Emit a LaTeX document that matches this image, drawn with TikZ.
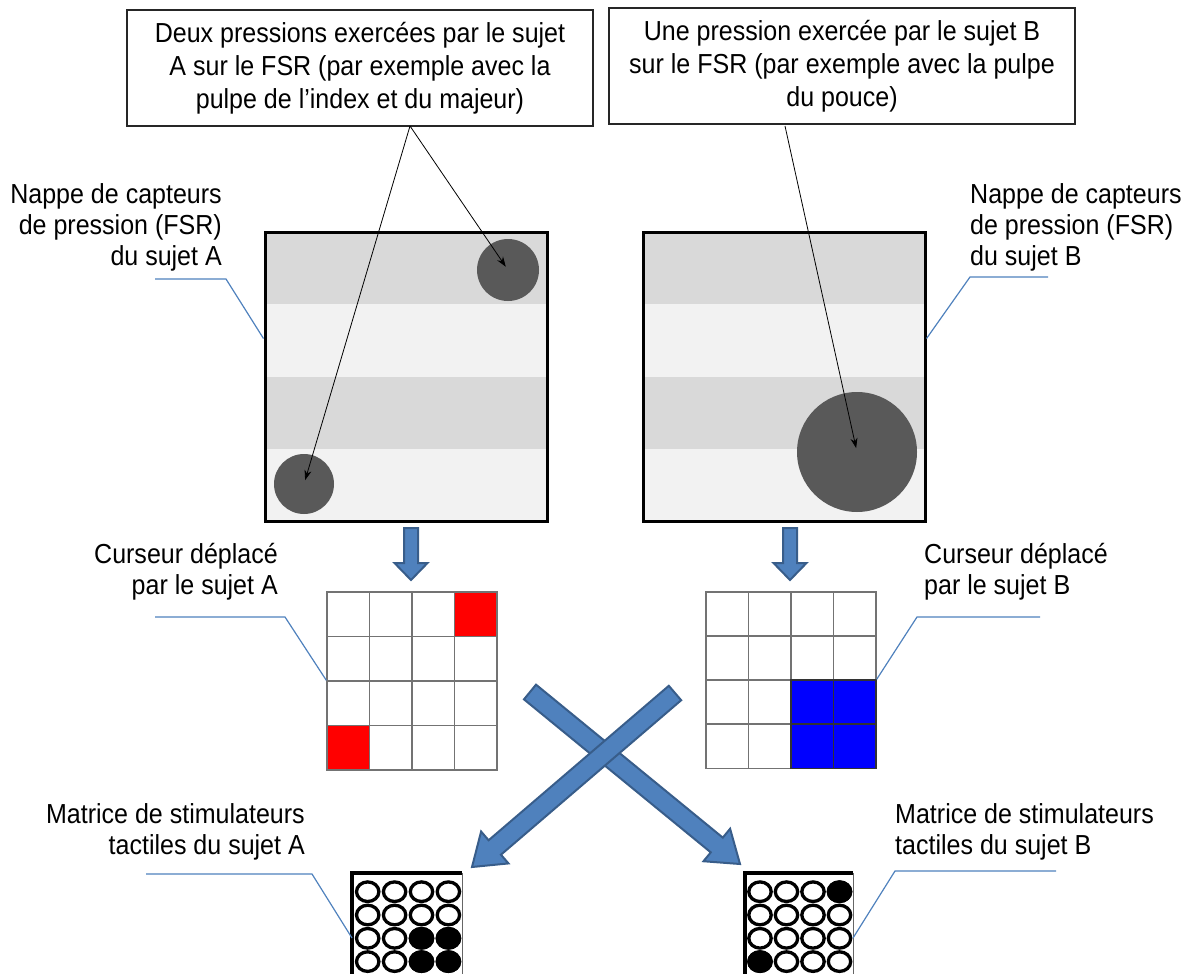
\documentclass[tikz,border=0pt]{standalone}
\usepackage{fontspec}
\setmainfont{Liberation Sans}[FakeStretch=0.91]
\usetikzlibrary{positioning, calc, arrows.meta}

\definecolor{stripeD}{HTML}{D9D9D9}
\definecolor{stripeL}{HTML}{F2F2F2}
\definecolor{press}{HTML}{595959}
\definecolor{leadcol}{HTML}{4F81BD}
\definecolor{bfill}{HTML}{4F81BD}
\definecolor{bline}{HTML}{385D8A}

\tikzset{
	every node/.style={inner sep=0, font=\fontsize{27.5}{31}\selectfont},
	textbox/.style={draw=black!85, line width=1.2, align=center, minimum width=466, minimum height=116, font=\fontsize{27.5}{33}\selectfont},
	lblL/.style={align=right, anchor=north east},
	lblR/.style={align=left, anchor=north west},
	leader/.style={draw=leadcol, line width=1.2},
	pad/.style={draw=black, line width=3, minimum width=282, minimum height=289},
	press/.style={circle, fill=press},
	cell/.style={draw=black!55, line width=1.3, minimum width=42.5, minimum height=44.5},
	pointer/.style={-{Stealth[length=10, width=7]}, line width=0.8, shorten >=4},
	stim/.style={draw=black, line width=3.3},
}

% block arrow: tail, tip, half shaft, half head, head length
\newcommand{\blockarrow}[5]{
	\coordinate (ah) at ($(#2)!#5!(#1)$);
	\filldraw[fill=bfill, draw=bline, line width=2, line join=miter]
		($(#1)!#3!90:(#2)$) -- ($(ah)!#3!90:(#2)$) -- ($(ah)!#4!90:(#2)$) -- (#2)
		-- ($(ah)!#4!-90:(#2)$) -- ($(ah)!#3!-90:(#2)$) -- ($(#1)!#3!-90:(#2)$) -- cycle;
}

\begin{document}
\begin{tikzpicture}[x=1pt, y=-1pt]
	\useasboundingbox (0,0) rectangle (1191,974);
	\clip (0,0) rectangle (1191,974);

	% boxes at the top
	\node[textbox] (bxA) at (360,68) {Deux pressions exercées par le sujet\\A sur le FSR (par exemple avec la\\pulpe de l’index et du majeur)};
	\node[textbox] (bxB) at (842,66) {Une pression exercée par le sujet B\\sur le FSR (par exemple avec la pulpe\\du pouce)};

	% pressure sensor pads
	\foreach \x/\s in {265/A, 643/B} {
		\foreach \i/\c in {0/stripeD, 1/stripeL, 2/stripeD, 3/stripeL}
			\fill[\c] (\x, 232+72.25*\i) rectangle ++(282, 72.25);
	}
	\node[pad] (nA) at (406,376.5) {};
	\node[pad] (nB) at (784,376.5) {};
	\node[press, minimum size=62] (pA1) at (508,270) {};
	\node[press, minimum size=60] (pA2) at (304,484) {};
	\node[press, minimum size=120] (pB1) at (857,452) {};

	\coordinate (tA) at (410,126);
	\coordinate (tB) at (785,126);
	\draw[pointer] (tA) -- (pA1.center);
	\draw[pointer] (tA) -- (pA2.center);
	\draw[pointer] (tB) -- (pB1.center);

	\node[lblL] (lNA) at (222,183) {Nappe de capteurs\\de pression (FSR)\\du sujet A};
	\node[lblR] (lNB) at (970,183) {Nappe de capteurs\\de pression (FSR)\\du sujet B};
	\draw[leader] (155,279) -- (226,279) -- ($(nA.north west)!0.37!(nA.south west)$);
	\draw[leader] (1048,277) -- (970,277) -- ($(nB.north east)!0.37!(nB.south east)$);

	% down arrows
	\coordinate (dA0) at (411,528);
	\coordinate (dA1) at (411,580);
	\coordinate (dB0) at (790,528);
	\coordinate (dB1) at (790,580);
	\blockarrow{dA0}{dA1}{7pt}{16.5pt}{17pt}
	\blockarrow{dB0}{dB1}{7pt}{16.5pt}{17pt}

	% cursor grids
	\foreach \r in {0,...,3}
		\foreach \c in {0,...,3} {
			\node[cell] (gA\r\c) at (348.25+42.5*\c, 614.25+44.5*\r) {};
			\node[cell] (gB\r\c) at (727.25+42.5*\c, 614.25+44*\r) {};
		}
	\foreach \r/\c in {0/3, 3/0}
		\node[cell, fill=red] at (gA\r\c) {};
	\foreach \r/\c in {2/2, 2/3, 3/2, 3/3}
		\node[cell, fill=blue, draw=black!80] at (gB\r\c) {};

	\node[lblL] (lCA) at (278,543) {Curseur déplacé\\par le sujet A};
	\node[lblR] (lCB) at (924,543) {Curseur déplacé\\par le sujet B};
	\draw[leader] (155,617) -- (285,617) -- (gA20.north west);
	\draw[leader] (1040,617) -- (917,617) -- (gB23.north east);

	% crossing arrows
	\coordinate (xA0) at (530,692);
	\coordinate (xA1) at (740,864);
	\coordinate (xB0) at (675,693);
	\coordinate (xB1) at (472,867);
	\blockarrow{xA0}{xA1}{9.5pt}{21pt}{30pt}
	\blockarrow{xB0}{xB1}{9.5pt}{21pt}{30pt}

	% tactile stimulator matrices
	\fill[white] (352,873) rectangle (462,990);
	\fill[white] (745,873) rectangle (853,990);
	\draw[black!60, line width=1] (462,873) -- (462,990);
	\draw[black!60, line width=1] (853,873) -- (853,990);
	\draw[black, line width=4] (352,990) -- (352,873) -- (462,873);
	\draw[black, line width=4] (745,990) -- (745,873) -- (853,873);
	\foreach \r in {0,...,3}
		\foreach \c in {0,...,3} {
			\draw[stim, fill=white] (367.7+26.9*\c, 891.7+23.3*\r) ellipse [x radius=11.2, y radius=9.8];
			\draw[stim, fill=white] (760+26.5*\c, 891.7+23.3*\r) ellipse [x radius=11.2, y radius=9.8];
		}
	\foreach \r/\c in {2/2, 2/3, 3/2, 3/3}
		\fill[black] (367.7+26.9*\c, 891.7+23.3*\r) ellipse [x radius=12.8, y radius=11.4];
	\foreach \r/\c in {0/3, 3/0}
		\fill[black] (760+26.5*\c, 891.7+23.3*\r) ellipse [x radius=12.8, y radius=11.4];

	\node[lblL] (lMA) at (305,803) {Matrice de stimulateurs\\tactiles du sujet A};
	\node[lblR] (lMB) at (895,803) {Matrice de stimulateurs\\tactiles du sujet B};
	\draw[leader] (146,874) -- (312,874) -- (352,938);
	\draw[leader] (1056,871) -- (895,871) -- (853,938);
\end{tikzpicture}
\end{document}
